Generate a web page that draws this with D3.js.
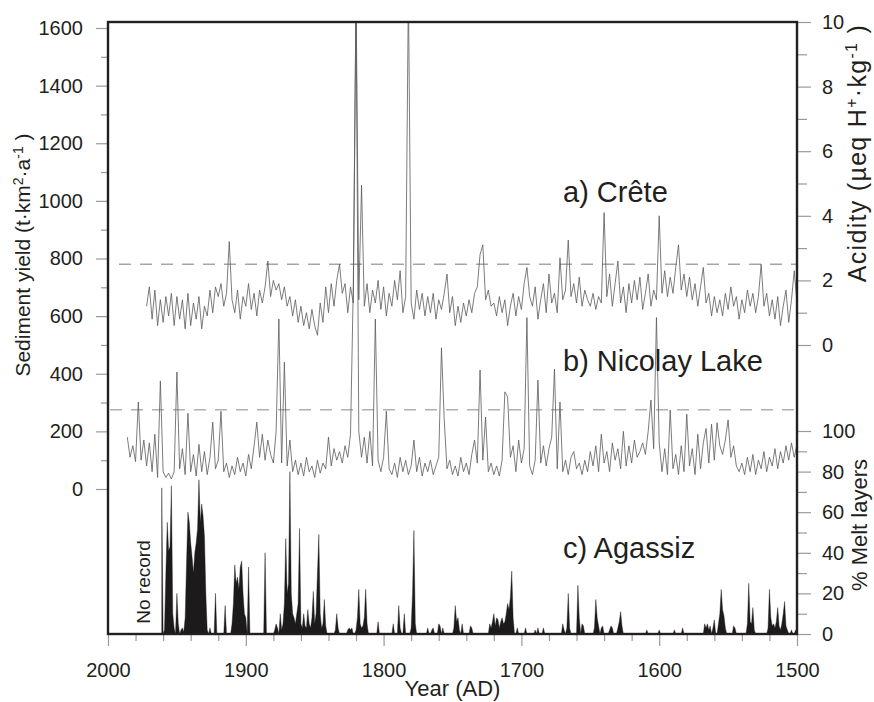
<!DOCTYPE html>
<html>
<head>
<meta charset="utf-8">
<script src="https://cdn.jsdelivr.net/npm/d3@7"></script>
<style>
  body { margin: 0; background: #fff; }
  svg text { font-family: "Liberation Sans", Arial, sans-serif; fill: #231f20; }
</style>
</head>
<body>
<div id="chart"></div>
<script>
// a) Crête acidity, every 2 years from 1972 back to 1500
const creteStart = 1972;
const creteStep = 2;
const creteAcidity = [
  1.2, 1.8, 0.8, 1.7, 0.6, 1.4, 0.7, 1.5, 0.9, 1.6,
  0.6, 1.5, 0.8, 1.4, 0.5, 1.6, 0.6, 1.3, 0.8, 1.5,
  0.5, 1.2, 0.9, 1.7, 1.0, 1.8, 1.5, 1.9, 1.2, 1.6,
  3.2, 1.4, 1.0, 1.7, 0.8, 1.5, 1.2, 1.9, 1.1, 1.6,
  0.9, 1.7, 1.3, 1.8, 2.6, 1.5, 2.0, 1.7, 1.9, 1.4,
  1.8, 1.2, 1.5, 0.9, 1.4, 0.7, 1.2, 0.6, 1.0, 0.5,
  1.1, 0.6, 0.3, 1.3, 0.7, 1.8, 1.0, 1.9, 1.2, 2.0,
  2.5, 1.6, 1.9, 1.0, 1.8, 1.3, 11, 1.4, 4.95, 1.2,
  1.9, 1.0, 1.7, 1.3, 2.0, 1.1, 1.8, 0.9, 1.6, 1.2,
  2.0, 1.4, 2.3, 1.0, 1.5, 11, 1.3, 0.8, 1.7, 1.1,
  1.6, 0.9, 1.5, 1.0, 1.6, 0.8, 1.4, 1.1, 1.6, 2.2,
  1.0, 1.5, 0.6, 1.2, 0.7, 1.3, 0.9, 1.4, 1.0, 1.6,
  1.8, 2.8, 3.1, 1.4, 1.7, 1.2, 1.3, 0.9, 1.5, 1.0,
  1.4, 0.6, 1.2, 1.6, 0.9, 1.5, 1.1, 1.9, 2.4, 1.5,
  1.2, 1.8, 0.8, 1.4, 1.9, 1.0, 2.2, 1.3, 1.6, 1.0,
  2.7, 1.4, 1.7, 3.25, 1.5, 1.9, 1.3, 2.1, 1.2, 1.7,
  1.4, 1.2, 1.6, 1.1, 1.5, 1.3, 4.1, 1.5, 2.2, 1.2,
  1.9, 2.6, 1.3, 1.8, 1.0, 1.9, 1.3, 2.0, 1.4, 2.1,
  1.1, 1.6, 2.2, 1.2, 1.7, 1.4, 4.0, 1.6, 2.3, 1.5,
  2.1, 1.6, 2.4, 3.1, 1.7, 2.2, 1.5, 2.1, 1.4, 1.9,
  1.2, 1.8, 2.4, 1.3, 1.6, 0.9, 1.5, 1.0, 1.4, 0.9,
  1.6, 1.1, 1.8, 1.2, 1.5, 0.8, 1.4, 1.0, 1.7, 1.2,
  1.6, 1.0, 1.5, 2.5, 1.2, 1.6, 0.9, 1.4, 0.8, 1.5,
  0.6, 1.2, 1.7, 0.7, 1.4, 2.3, 1.3
];

// b) Nicolay Lake sediment yield, every 2 years from 1986 back to 1500
const nicolayStart = 1986;
const nicolayStep = 2;
const nicolayYield = [
  180, 110, 150, 95, 302, 100, 170, 80, 160, 60,
  190, 40, 375, 60, 40, 55, 35, 60, 406, 70,
  140, 50, 263, 60, 120, 45, 155, 60, 130, 50,
  110, 232, 70, 100, 270, 60, 90, 40, 80, 50,
  110, 60, 90, 45, 120, 70, 150, 232, 110, 190,
  100, 170, 120, 90, 200, 590, 90, 440, 80, 170,
  60, 100, 50, 90, 45, 110, 60, 80, 40, 100,
  55, 90, 70, 180, 80, 140, 100, 130, 90, 150,
  110, 190, 700, 1700, 200, 110, 180, 90, 200, 80,
  590, 100, 60, 110, 270, 70, 50, 90, 40, 110,
  60, 100, 50, 80, 170, 60, 110, 45, 90, 60,
  100, 50, 80, 110, 490, 240, 70, 100, 50, 80,
  45, 110, 60, 90, 50, 120, 170, 90, 413, 100,
  250, 60, 90, 50, 80, 45, 100, 337, 320, 110,
  150, 60, 170, 90, 140, 595, 80, 50, 100, 378,
  90, 150, 80, 140, 180, 416, 70, 302, 60, 100,
  50, 110, 130, 70, 90, 50, 100, 60, 130, 80,
  150, 60, 190, 90, 130, 60, 160, 100, 140, 70,
  200, 80, 150, 90, 170, 110, 130, 160, 120, 200,
  309, 140, 595, 160, 60, 140, 50, 274, 70, 120,
  50, 150, 60, 260, 80, 140, 50, 190, 70, 160,
  210, 90, 225, 100, 230, 150, 120, 170, 240, 110,
  150, 80, 60, 90, 50, 110, 60, 120, 50, 100,
  70, 130, 60, 110, 80, 140, 70, 130, 90, 150,
  100, 160, 110, 155
];

// c) Agassiz % melt layers, every year from 1961 back to 1500
const agassizStart = 1961;
const agassizStep = 1;
const agassizMelt = [
  72, 0, 2, 30, 55, 41, 43, 73, 10, 3,
  0, 20, 5, 0, 2, 3, 1, 8, 35, 60,
  55, 45, 38, 30, 40, 45, 52, 76, 55, 64,
  58, 48, 20, 2, 0, 3, 0, 0, 0, 20,
  0, 0, 0, 0, 0, 0, 14, 0, 0, 0,
  0, 5, 15, 34, 25, 28, 22, 33, 36, 20,
  10, 8, 0, 33, 0, 0, 0, 0, 0, 0,
  0, 0, 0, 0, 0, 40, 0, 0, 0, 0,
  0, 0, 2, 5, 3, 0, 10, 2, 5, 15,
  47, 20, 25, 80, 20, 10, 8, 5, 10, 15,
  52, 5, 3, 10, 4, 3, 12, 5, 3, 8,
  21, 5, 10, 30, 49, 10, 3, 5, 17, 4,
  0, 0, 0, 0, 0, 0, 2, 10, 3, 0,
  0, 0, 0, 0, 0, 2, 3, 2, 3, 0,
  0, 2, 8, 22, 5, 3, 4, 8, 22, 5,
  0, 0, 0, 0, 0, 0, 0, 6, 0, 0,
  0, 0, 0, 0, 0, 0, 0, 0, 5, 0,
  0, 0, 14, 3, 0, 0, 10, 0, 0, 0,
  0, 3, 20, 51, 5, 0, 0, 0, 0, 0,
  0, 0, 0, 3, 0, 0, 2, 3, 0, 0,
  0, 5, 4, 0, 3, 0, 0, 0, 0, 0,
  0, 0, 3, 14, 6, 8, 2, 0, 5, 0,
  0, 0, 0, 0, 4, 3, 0, 0, 0, 0,
  0, 0, 0, 0, 0, 0, 0, 0, 5, 3,
  6, 10, 4, 8, 7, 3, 6, 8, 5, 6,
  10, 15, 12, 18, 31, 8, 0, 0, 3, 0,
  0, 0, 0, 0, 3, 0, 0, 0, 0, 0,
  0, 2, 0, 3, 0, 0, 0, 3, 0, 0,
  0, 0, 0, 0, 0, 0, 0, 0, 0, 0,
  0, 5, 2, 0, 3, 20, 3, 0, 0, 0,
  0, 0, 24, 8, 0, 5, 4, 0, 0, 0,
  0, 0, 0, 0, 3, 17, 8, 4, 0, 3,
  4, 0, 0, 0, 0, 2, 4, 3, 0, 0,
  0, 3, 6, 11, 4, 0, 0, 0, 0, 0,
  0, 0, 0, 0, 0, 0, 0, 0, 0, 0,
  0, 0, 2, 0, 0, 0, 0, 0, 0, 0,
  0, 2, 0, 0, 0, 0, 0, 0, 0, 0,
  0, 0, 2, 0, 0, 0, 0, 0, 3, 0,
  0, 0, 0, 0, 0, 0, 0, 0, 0, 0,
  0, 0, 0, 0, 5, 3, 5, 2, 4, 0,
  3, 7, 0, 0, 5, 10, 22, 12, 9, 3,
  0, 0, 0, 0, 0, 4, 3, 0, 0, 0,
  0, 0, 0, 0, 0, 5, 25, 6, 5, 13,
  2, 0, 0, 0, 0, 0, 0, 0, 0, 0,
  3, 22, 8, 4, 5, 3, 6, 13, 4, 2,
  5, 10, 16, 4, 2, 0, 0, 2, 0, 0,
  2, 2
];

// thresholds (dashed lines)
const creteThreshold = 2.5;
const nicolayThreshold = 275;

// ticks
const yearTicks = [2000, 1900, 1800, 1700, 1600, 1500];
const yearMinor = [1980, 1960, 1940, 1920, 1880, 1860, 1840, 1820, 1780, 1760, 1740, 1720,
  1680, 1660, 1640, 1620, 1580, 1560, 1540, 1520];
const yieldTicks = [0, 200, 400, 600, 800, 1000, 1200, 1400, 1600];
const yieldMinor = [100, 300, 500, 700, 900, 1100, 1300, 1500];
const acidTicks = [0, 2, 4, 6, 8, 10];
const acidMinor = [1, 3, 5, 7, 9];
const meltTicks = [0, 20, 40, 60, 80, 100];
const meltMinor = [10, 30, 50, 70, 90];

const WIDTH = 874, HEIGHT = 702;
const FRAME = { left: 108, right: 797, top: 22, bottom: 634 };
const INK = "#231f20";
const TICK = "#9a9a9a";

const toSeries = (start, step, values) =>
  values.map((v, i) => ({ year: start - step * i, value: v }));

const svg = d3.select("#chart").append("svg")
  .attr("width", WIDTH)
  .attr("height", HEIGHT);

const x = d3.scaleLinear().domain([2000, 1500]).range([FRAME.left, FRAME.right]);
const ySed = d3.scaleLinear().domain([0, 1600]).range([489, 28]);
const yAcid = d3.scaleLinear().domain([0, 10]).range([345, 22]);
const yMelt = d3.scaleLinear().domain([0, 100]).range([634, 431]);

svg.append("clipPath").attr("id", "plotClip")
  .append("rect")
  .attr("x", FRAME.left).attr("y", FRAME.top)
  .attr("width", FRAME.right - FRAME.left)
  .attr("height", FRAME.bottom - FRAME.top);

// axes
const drawAxis = (axis, tx, ty) => {
  const g = svg.append("g")
    .attr("transform", `translate(${tx},${ty})`)
    .call(axis);
  g.select(".domain").remove();
  g.attr("font-family", null).attr("font-size", 20);
  g.selectAll(".tick line").attr("stroke", TICK).attr("stroke-width", 1.2);
  g.selectAll(".tick text").attr("fill", INK);
  return g;
};

const fmt = d3.format("d");
drawAxis(d3.axisLeft(ySed).tickValues(yieldTicks).tickSize(12).tickPadding(13).tickFormat(fmt), FRAME.left, 0);
drawAxis(d3.axisLeft(ySed).tickValues(yieldMinor).tickSize(7).tickFormat(""), FRAME.left, 0);
drawAxis(d3.axisRight(yAcid).tickValues(acidTicks).tickSize(14).tickPadding(11).tickFormat(fmt), FRAME.right, 0);
drawAxis(d3.axisRight(yAcid).tickValues(acidMinor).tickSize(10).tickFormat(""), FRAME.right, 0);
drawAxis(d3.axisRight(yMelt).tickValues(meltTicks).tickSize(14).tickPadding(11).tickFormat(fmt), FRAME.right, 0);
drawAxis(d3.axisRight(yMelt).tickValues(meltMinor).tickSize(10).tickFormat(""), FRAME.right, 0);
drawAxis(d3.axisBottom(x).tickValues(yearTicks).tickSize(12).tickPadding(17).tickFormat(fmt), 0, FRAME.bottom);
drawAxis(d3.axisBottom(x).tickValues(yearMinor).tickSize(7).tickFormat(""), 0, FRAME.bottom);

// dashed thresholds
svg.append("line")
  .attr("x1", 119).attr("x2", FRAME.right)
  .attr("y1", yAcid(creteThreshold)).attr("y2", yAcid(creteThreshold))
  .attr("stroke", "#a5a5a5").attr("stroke-width", 1.3)
  .attr("stroke-dasharray", "12,9");
svg.append("line")
  .attr("x1", 110).attr("x2", FRAME.right)
  .attr("y1", ySed(nicolayThreshold)).attr("y2", ySed(nicolayThreshold))
  .attr("stroke", "#b0b0b0").attr("stroke-width", 1.3)
  .attr("stroke-dasharray", "12,9");

const plot = svg.append("g").attr("clip-path", "url(#plotClip)");

// c) Agassiz melt area
const agassiz = toSeries(agassizStart, agassizStep, agassizMelt);
plot.append("path")
  .datum(agassiz)
  .attr("fill", "#1c1a1b")
  .attr("stroke", "#1c1a1b")
  .attr("stroke-width", 0.4)
  .attr("d", d3.area()
    .x((d) => x(d.year))
    .y0(yMelt(0))
    .y1((d) => yMelt(d.value)));

// b) Nicolay Lake
const nicolay = toSeries(nicolayStart, nicolayStep, nicolayYield);
plot.append("path")
  .datum(nicolay)
  .attr("fill", "none")
  .attr("stroke", "#5a5a5a")
  .attr("stroke-width", 0.8)
  .attr("d", d3.line().x((d) => x(d.year)).y((d) => ySed(d.value)));

// a) Crête
const crete = toSeries(creteStart, creteStep, creteAcidity);
plot.append("path")
  .datum(crete)
  .attr("fill", "none")
  .attr("stroke", "#5a5a5a")
  .attr("stroke-width", 0.8)
  .attr("d", d3.line().x((d) => x(d.year)).y((d) => yAcid(d.value)));

// frame
svg.append("rect")
  .attr("x", FRAME.left).attr("y", FRAME.top)
  .attr("width", FRAME.right - FRAME.left)
  .attr("height", FRAME.bottom - FRAME.top)
  .attr("fill", "none")
  .attr("stroke", INK)
  .attr("stroke-width", 2.4);

// axis titles
const leftTitle = svg.append("text")
  .attr("transform", "translate(30,255) rotate(-90)")
  .attr("text-anchor", "middle")
  .attr("font-size", 21);
leftTitle.append("tspan").text("Sediment yield (t·km");
leftTitle.append("tspan").attr("dy", -7).attr("font-size", 14).text("2");
leftTitle.append("tspan").attr("dy", 7).text("·a");
leftTitle.append("tspan").attr("dy", -7).attr("font-size", 14).text("-1");
leftTitle.append("tspan").attr("dy", 7).text(" )");

const rightTitle = svg.append("text")
  .attr("transform", "translate(866,153) rotate(-90)")
  .attr("text-anchor", "middle")
  .attr("font-size", 25)
  .attr("letter-spacing", 1.3);
rightTitle.append("tspan").text("Acidity (µeq H");
rightTitle.append("tspan").attr("dy", -9).attr("font-size", 16).text("+");
rightTitle.append("tspan").attr("dy", 9).text("·kg");
rightTitle.append("tspan").attr("dy", -9).attr("font-size", 16).text("-1");
rightTitle.append("tspan").attr("dy", 9).text(" )");

svg.append("text")
  .attr("transform", "translate(867,525) rotate(-90)")
  .attr("text-anchor", "middle")
  .attr("font-size", 22)
  .text("% Melt layers");

svg.append("text")
  .attr("x", (FRAME.left + FRAME.right) / 2)
  .attr("y", 696)
  .attr("text-anchor", "middle")
  .attr("font-size", 22)
  .text("Year (AD)");

svg.append("text")
  .attr("transform", "translate(150,582) rotate(-90)")
  .attr("text-anchor", "middle")
  .attr("font-size", 19)
  .text("No record");

// series labels
const labels = [
  { text: "a) Crête", y: 202 },
  { text: "b) Nicolay Lake", y: 371 },
  { text: "c) Agassiz", y: 558 },
];
svg.selectAll(".series-label")
  .data(labels)
  .enter()
  .append("text")
  .attr("class", "series-label")
  .attr("x", 563)
  .attr("y", (d) => d.y)
  .attr("font-size", 29)
  .text((d) => d.text);
</script>
</body>
</html>
